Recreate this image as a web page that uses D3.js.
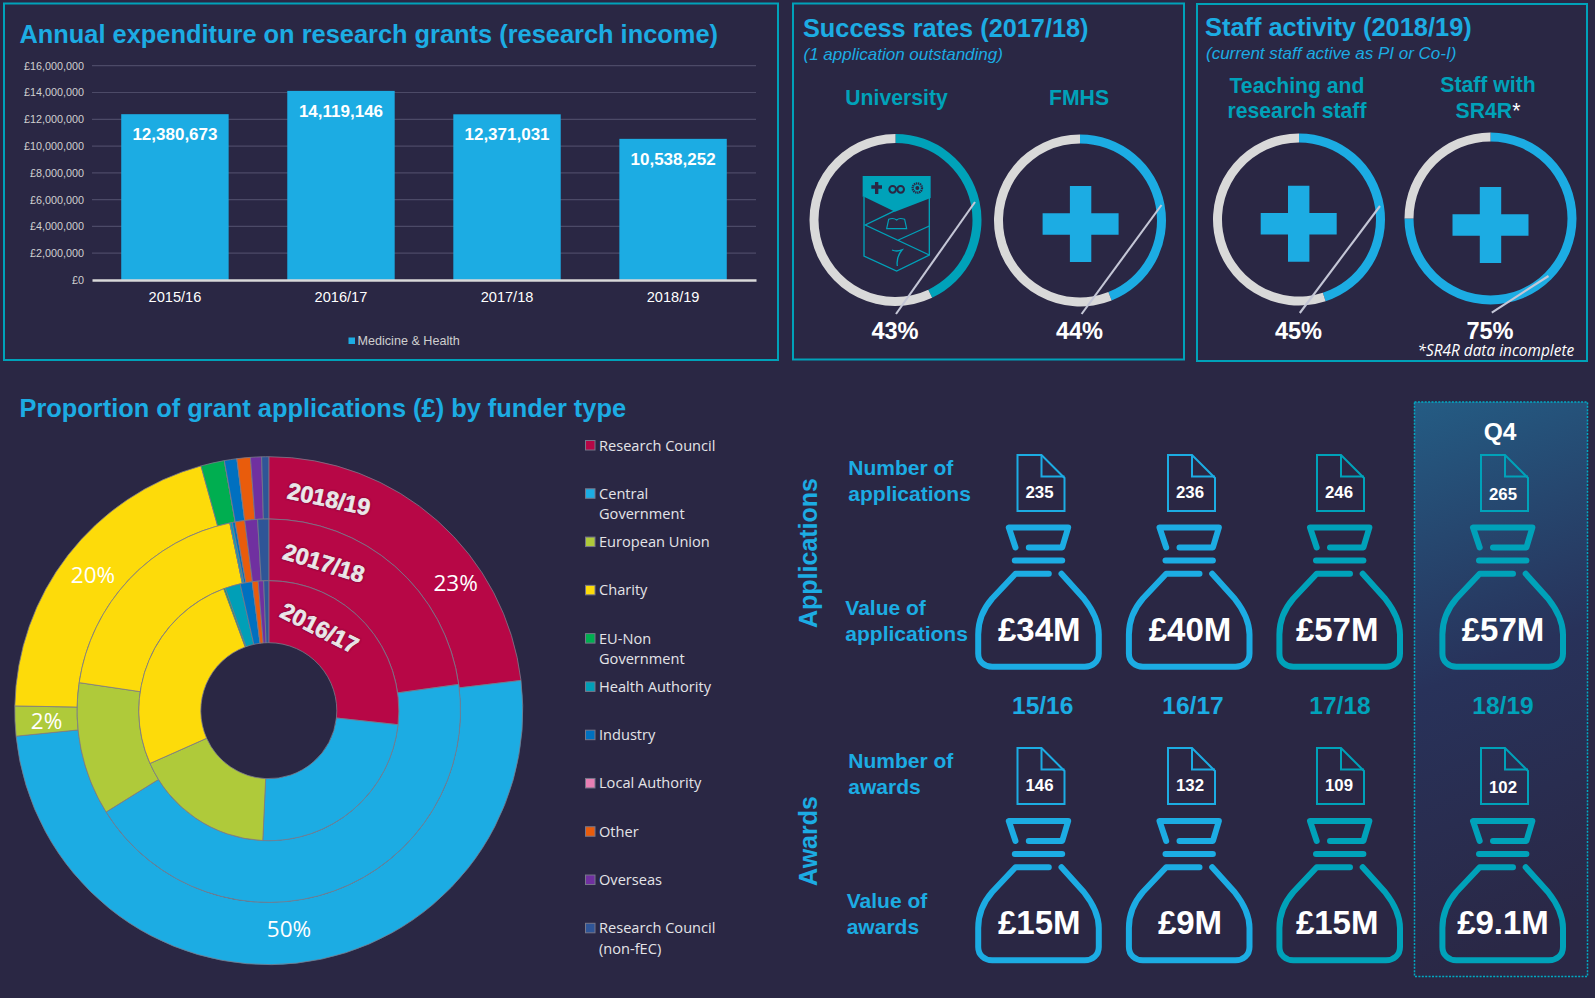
<!DOCTYPE html>
<html>
<head>
<meta charset="utf-8">
<title>Research grants dashboard</title>
<script src="https://cdnjs.cloudflare.com/ajax/libs/d3/7.8.5/d3.min.js"></script>
<style>
  html, body { margin: 0; padding: 0; background: #2a2744; overflow: hidden; }
  svg { display: block; }
  text { font-family: "Liberation Sans", Arial, sans-serif; }
  .b { font-weight: bold; }
  .seg { font-family: "Open Sans", sans-serif; }
</style>
</head>
<body>
<div id="chart"></div>
<script>
// bar chart
var barYears = ["2015/16", "2016/17", "2017/18", "2018/19"];
var barValues = [12380673, 14119146, 12371031, 10538252];
var barTicks = [0, 2000000, 4000000, 6000000, 8000000, 10000000, 12000000, 14000000, 16000000];

// donut gauges
var gaugeNames = ["University", "FMHS", "Teaching", "SR4R"];
var gaugeValues = [43, 44, 45, 75];

// funder rings
var funders = ["Research Council", "Central Government", "European Union", "Charity", "EU-Non Government",
  "Health Authority", "Industry", "Local Authority", "Other", "Overseas", "Research Council (non-fEC)"];
var share1617 = [26.7, 24, 17.6, 26, 0.2, 1.9, 1.5, 0, 0.73, 0.67, 0.63];
var share1718 = [22.8, 43.3, 11.2, 19.4, 0, 0.2, 0.25, 0, 0.8, 1.07, 0.93];
var share1819 = [23.1, 50.3, 1.9, 20.4, 1.5, 0, 0.8, 0, 0.85, 0.7, 0.45];
var funderColours = ["#b70746", "#1cace3", "#afca3a", "#fddb0a", "#00ae50", "#009fb7",
  "#0070c0", "#e77fb3", "#e95c0c", "#7030a0", "#2f5597"];

// icon grid
var periods = ["15/16", "16/17", "17/18", "18/19"];
var applicationCounts = [235, 236, 246, 265];
var applicationValues = ["£34M", "£40M", "£57M", "£57M"];
var awardCounts = [146, 132, 109, 102];
var awardValues = ["£15M", "£9M", "£15M", "£9.1M"];

var blue = "#1cace3", teal = "#00a2b9", grey = "#d9d9d9", bg = "#2a2744";

var svg = d3.select("#chart").append("svg").attr("width", 1595).attr("height", 998);

var defs = svg.append("defs");
var grad = defs.append("linearGradient").attr("id", "q4").attr("x1", 0).attr("y1", 0).attr("x2", 0.12).attr("y2", 1);
grad.append("stop").attr("offset", "0%").attr("stop-color", "#245c84");
grad.append("stop").attr("offset", "50%").attr("stop-color", "#28325a");
grad.append("stop").attr("offset", "100%").attr("stop-color", "#2a2846");

function panel(x0, y0, x1, y1) {
  svg.append("rect").attr("x", x0).attr("y", y0).attr("width", x1 - x0).attr("height", y1 - y0)
    .attr("fill", "none").attr("stroke", teal).attr("stroke-width", 2);
}
function label(x, y, str, size, colour, cls, anchor) {
  return svg.append("text").attr("x", x).attr("y", y).text(str)
    .attr("font-size", size).attr("fill", colour).attr("class", cls || null)
    .attr("text-anchor", anchor || "start");
}

panel(4, 3.5, 778, 360);
panel(793, 3.5, 1184, 359.5);
panel(1197, 4, 1587, 361);

label(19.5, 42.5, "Annual expenditure on research grants (research income)", 25.4, blue, "b");
label(803, 37, "Success rates (2017/18)", 25.3, blue, "b");
label(1205, 36, "Staff activity (2018/19)", 25.4, blue, "b");
label(19.5, 417, "Proportion of grant applications (£) by funder type", 25.4, blue, "b");
label(803.5, 59.5, "(1 application outstanding)", 17, blue).attr("font-style", "italic");
label(1206, 59, "(current staff active as PI or Co-I)", 17, blue).attr("font-style", "italic");

// ---- bars
var x = d3.scaleBand().domain(barYears).range([92, 756]).paddingInner(0.353).paddingOuter(0.176);
var y = d3.scaleLinear().domain([0, 16000000]).range([280, 65.7]);

var yAxis = svg.append("g").attr("transform", "translate(92,0)")
  .call(d3.axisLeft(y).tickValues(barTicks).tickSize(0).tickPadding(8)
    .tickFormat(function(d) { return "£" + d3.format(",")(d); }));
yAxis.select(".domain").remove();
yAxis.selectAll("text").attr("font-size", 10.8).attr("fill", "#d0d0d0").style("font-family", '"Liberation Sans"');

svg.append("g").selectAll("line").data(barTicks.slice(1)).enter().append("line")
  .attr("x1", 92).attr("x2", 756).attr("y1", y).attr("y2", y)
  .attr("stroke", "#4c4a67").attr("stroke-width", 1.2);

svg.append("g").selectAll("rect").data(barValues).enter().append("rect")
  .attr("x", function(d, i) { return x(barYears[i]); })
  .attr("y", y).attr("width", x.bandwidth())
  .attr("height", function(d) { return y(0) - y(d); })
  .attr("fill", blue);

var xAxis = svg.append("g").attr("transform", "translate(0,280)")
  .call(d3.axisBottom(x).tickSize(0).tickPadding(12));
xAxis.select(".domain").attr("stroke", grey).attr("stroke-width", 2.4);
xAxis.selectAll("text").attr("font-size", 14.6).attr("fill", "#fff").style("font-family", '"Liberation Sans"');

svg.append("g").selectAll("text").data(barValues).enter().append("text")
  .attr("x", function(d, i) { return x(barYears[i]) + x.bandwidth() / 2; })
  .attr("y", function(d) { return y(d) + 26; })
  .attr("text-anchor", "middle").attr("class", "b").attr("font-size", 17).attr("fill", "#fff")
  .text(d3.format(","));

svg.append("rect").attr("x", 348.5).attr("y", 337.5).attr("width", 6.5).attr("height", 6.5).attr("fill", blue);
label(357.5, 345, "Medicine & Health", 12.6, "#cfcfcf");

// ---- gauges
var gaugeX = d3.scaleOrdinal(gaugeNames, [895.5, 1080, 1299, 1490.5]);
var gaugeY = d3.scaleOrdinal(gaugeNames, [220, 220.5, 219.5, 218.5]);
var gaugeFill = d3.scaleOrdinal(gaugeNames, [teal, blue, blue, blue]);
var gaugeLeaders = [[975, 202, 896, 314], [1161.5, 205, 1081.6, 314], [1380, 206, 1299.8, 313], [1548.5, 276, 1491.8, 312.7]];
var gaugeArc = d3.arc().innerRadius(77).outerRadius(86);
var gaugePie = d3.pie().sort(null);

gaugeNames.forEach(function(name, i) {
  var g = svg.append("g").attr("transform", "translate(" + gaugeX(name) + "," + gaugeY(name) + ")");
  g.selectAll("path").data(gaugePie([gaugeValues[i], 100 - gaugeValues[i]])).enter().append("path")
    .attr("d", gaugeArc)
    .attr("fill", function(d, j) { return j == 0 ? gaugeFill(name) : grey; });
  var l = gaugeLeaders[i];
  svg.append("line").attr("x1", l[0]).attr("y1", l[1]).attr("x2", l[2]).attr("y2", l[3])
    .attr("stroke", "#c4c6d6").attr("stroke-width", 2.1);
  label(gaugeX(name) - 0.5, 339, gaugeValues[i] + "%", 23.6, "#fff", "b", "middle");
});

label(896.5, 104.5, "University", 21.2, teal, "b", "middle");
label(1079, 104.5, "FMHS", 21.2, teal, "b", "middle");
label(1297, 92.5, "Teaching and", 21.2, teal, "b", "middle");
label(1297, 117.5, "research staff", 21.2, teal, "b", "middle");
label(1488, 92, "Staff with", 21.2, teal, "b", "middle");
var sr = label(1488, 117.5, "SR4R", 21.2, teal, "b", "middle");
sr.append("tspan").text("*").attr("fill", "#fff").attr("font-weight", "normal");
label(1417.5, 355.5, "*SR4R data incomplete", 15.4, "#fff", "seg").attr("font-style", "italic");

// plus icons
[[1080.6, 224], [1298.7, 223.7], [1490.5, 225]].forEach(function(c) {
  svg.append("path").attr("transform", "translate(" + c[0] + "," + c[1] + ")")
    .attr("d", "M-10.7,-38H10.7V-10.7H38V10.7H10.7V38H-10.7V10.7H-38V-10.7H-10.7Z")
    .attr("fill", blue);
});

// crest, drawn in the 3x zoom space
var crest = svg.append("g").attr("transform", "translate(840,170) scale(0.3333)")
  .attr("fill", "none").attr("stroke", teal).attr("stroke-width", 4);
crest.append("path").attr("fill", teal).attr("stroke", "none")
  .attr("d", "M68,18H272V84L165,125L72,80L68,80Z");
crest.append("path").attr("d", "M72,80V258L170,303L268,255V84");
crest.append("path").attr("d", "M165,122L76,165L268,255M268,168L175,210");
crest.append("path").attr("stroke-width", 3.5).attr("d", "M140,176H200L194,148Q178,142 170,150Q160,142 146,148Z");
crest.append("path").attr("stroke-width", 4).attr("d", "M156,240Q170,246 186,240Q168,262 172,288");
var mark = crest.append("g").attr("fill", bg).attr("stroke", "none");
mark.append("path").attr("d", "M105,36H115V46H126V56H115V72H105V56H94V46H105Z");
mark.append("circle").attr("cx", 158).attr("cy", 58).attr("r", 10).attr("fill", "none").attr("stroke", bg).attr("stroke-width", 6);
mark.append("circle").attr("cx", 182).attr("cy", 58).attr("r", 10).attr("fill", "none").attr("stroke", bg).attr("stroke-width", 6);
mark.append("circle").attr("cx", 232).attr("cy", 54).attr("r", 14).attr("fill", "none").attr("stroke", bg).attr("stroke-width", 7).attr("stroke-dasharray", "4 2");
mark.append("circle").attr("cx", 232).attr("cy", 54).attr("r", 6);

// ---- rings
var cx = 268.8, cy = 710.7;
var ringPie = d3.pie().sort(null);
var rings = [
  { shares: share1617, inner: 68, outer: 130 },
  { shares: share1718, inner: 130, outer: 191.7 },
  { shares: share1819, inner: 191.7, outer: 254 }
];
var pieG = svg.append("g").attr("transform", "translate(" + cx + "," + cy + ")");
rings.slice().reverse().forEach(function(r) {
  var arc = d3.arc().innerRadius(r.inner).outerRadius(r.outer);
  pieG.append("g").selectAll("path").data(ringPie(r.shares)).enter().append("path")
    .attr("d", arc)
    .attr("fill", function(d, i) { return funderColours[i]; })
    .attr("stroke", "#7b7b8c").attr("stroke-width", 0.8);
});

[["2018/19", 329, 499, 12], ["2017/18", 324, 563, 17], ["2016/17", 319.6, 628, 27]].forEach(function(t) {
  label(t[1], t[2], t[0], 23.2, "#fff", "b", "middle")
    .attr("dy", "0.35em")
    .attr("stroke", "#fff").attr("stroke-width", 0.5)
    .attr("transform", "rotate(" + t[3] + " " + t[1] + " " + t[2] + ")")
    .style("text-shadow", "0 0 2px rgba(60,20,40,0.7)");
});
[["23%", 455.6, 591, 22.5], ["20%", 93, 583, 22.5], ["2%", 46.5, 729, 22.5], ["50%", 289, 937, 22.5]].forEach(function(t) {
  label(t[1], t[2], t[0], t[3], "#fff", "seg", "middle");
});

// legend
var wrapped = {
  "Central Government": ["Central", "Government"],
  "EU-Non Government": ["EU-Non", "Government"],
  "Research Council (non-fEC)": ["Research Council", "(non-fEC)"]
};
var legendY = d3.scalePoint().domain(funders).range([445.5, 928.3]);
funders.forEach(function(name, i) {
  var ly = legendY(name);
  svg.append("rect").attr("x", 585.5).attr("y", ly - 5).attr("width", 9.5).attr("height", 9.5)
    .attr("fill", funderColours[i]).attr("stroke", "#77778a").attr("stroke-width", 1);
  (wrapped[name] || [name]).forEach(function(line, j) {
    label(599, ly + 5 + j * 20.7, line, 14.6, "#e4e4e8", "seg");
  });
});

// ---- icon grid
svg.append("rect").attr("x", 1414.5).attr("y", 402).attr("width", 173).attr("height", 574.5)
  .attr("fill", "url(#q4)").attr("stroke", "#00aac4").attr("stroke-width", 1.5).attr("stroke-dasharray", "2 1.4");

var periodFill = d3.scaleOrdinal(periods, [blue, blue, teal, teal]);
var periodLabelX = d3.scaleOrdinal(periods, [1042.7, 1193, 1340, 1503]);
var docX = d3.scaleOrdinal(periods, [1016.5, 1167, 1316, 1480]);
var docTextY = d3.scaleOrdinal(periods, [44, 44, 44, 46]);
var bagX = d3.scaleOrdinal(periods, [975.5, 1126.2, 1276.7, 1439.7]);
var bagTextX = d3.scaleOrdinal(periods, [63.8, 63.8, 60.5, 63.3]);

var bagPaths = [
  "M40,23L33.3,3H92.7L86.7,23H53.3",
  "M39.3,36H86.7",
  "M73.3,49.3H40L16.7,74C8,84 2.7,97 2.7,110V129C2.7,137 9,142.3 16.7,142.3H109.3C117,142.3 123.3,137 123.3,129V110C123.3,97 117,85 108.3,74L86,49.3"
];

function drawRow(counts, values, docTop, bagTop) {
  periods.forEach(function(p, i) {
    var d = svg.append("g").attr("transform", "translate(" + docX(p) + "," + docTop + ")")
      .attr("fill", "none").attr("stroke", periodFill(p)).attr("stroke-width", 2);
    d.append("path").attr("d", "M1,1H25L48,24V57H1Z");
    d.append("path").attr("d", "M25,1V22.5H48");
    d.append("text").attr("x", 23).attr("y", docTextY(p)).attr("text-anchor", "middle").attr("class", "b")
      .attr("font-size", 16.8).attr("fill", "#fff").attr("stroke", "none").text(counts[i]);

    var b = svg.append("g").attr("transform", "translate(" + bagX(p) + "," + bagTop + ")")
      .attr("fill", "none").attr("stroke", periodFill(p)).attr("stroke-width", 6)
      .attr("stroke-linecap", "round").attr("stroke-linejoin", "round");
    bagPaths.forEach(function(s) { b.append("path").attr("d", s); });
    b.append("text").attr("x", bagTextX(p)).attr("y", 116.3).attr("text-anchor", "middle").attr("class", "b")
      .attr("font-size", 33).attr("fill", "#fff").attr("stroke", "none").text(values[i]);
  });
}
drawRow(applicationCounts, applicationValues, 454, 524.5);
drawRow(awardCounts, awardValues, 747, 818);

periods.forEach(function(p) {
  label(periodLabelX(p), 714, p, 24.5, periodFill(p), "b", "middle");
});
label(1500, 439.5, "Q4", 24.5, "#fff", "b", "middle");

label(848.3, 475.3, "Number of", 21, blue, "b");
label(848.3, 500.5, "applications", 21, blue, "b");
label(845.3, 615, "Value of", 21, blue, "b");
label(845.3, 640.5, "applications", 21, blue, "b");
label(848.3, 767.8, "Number of", 21, blue, "b");
label(848.3, 793.5, "awards", 21, blue, "b");
label(846.7, 908, "Value of", 21, blue, "b");
label(846.7, 933.5, "awards", 21, blue, "b");

label(816.7, 553, "Applications", 25, blue, "b", "middle").attr("transform", "rotate(-90 816.7 553)");
label(816.7, 841, "Awards", 25, blue, "b", "middle").attr("transform", "rotate(-90 816.7 841)");
</script>
</body>
</html>
